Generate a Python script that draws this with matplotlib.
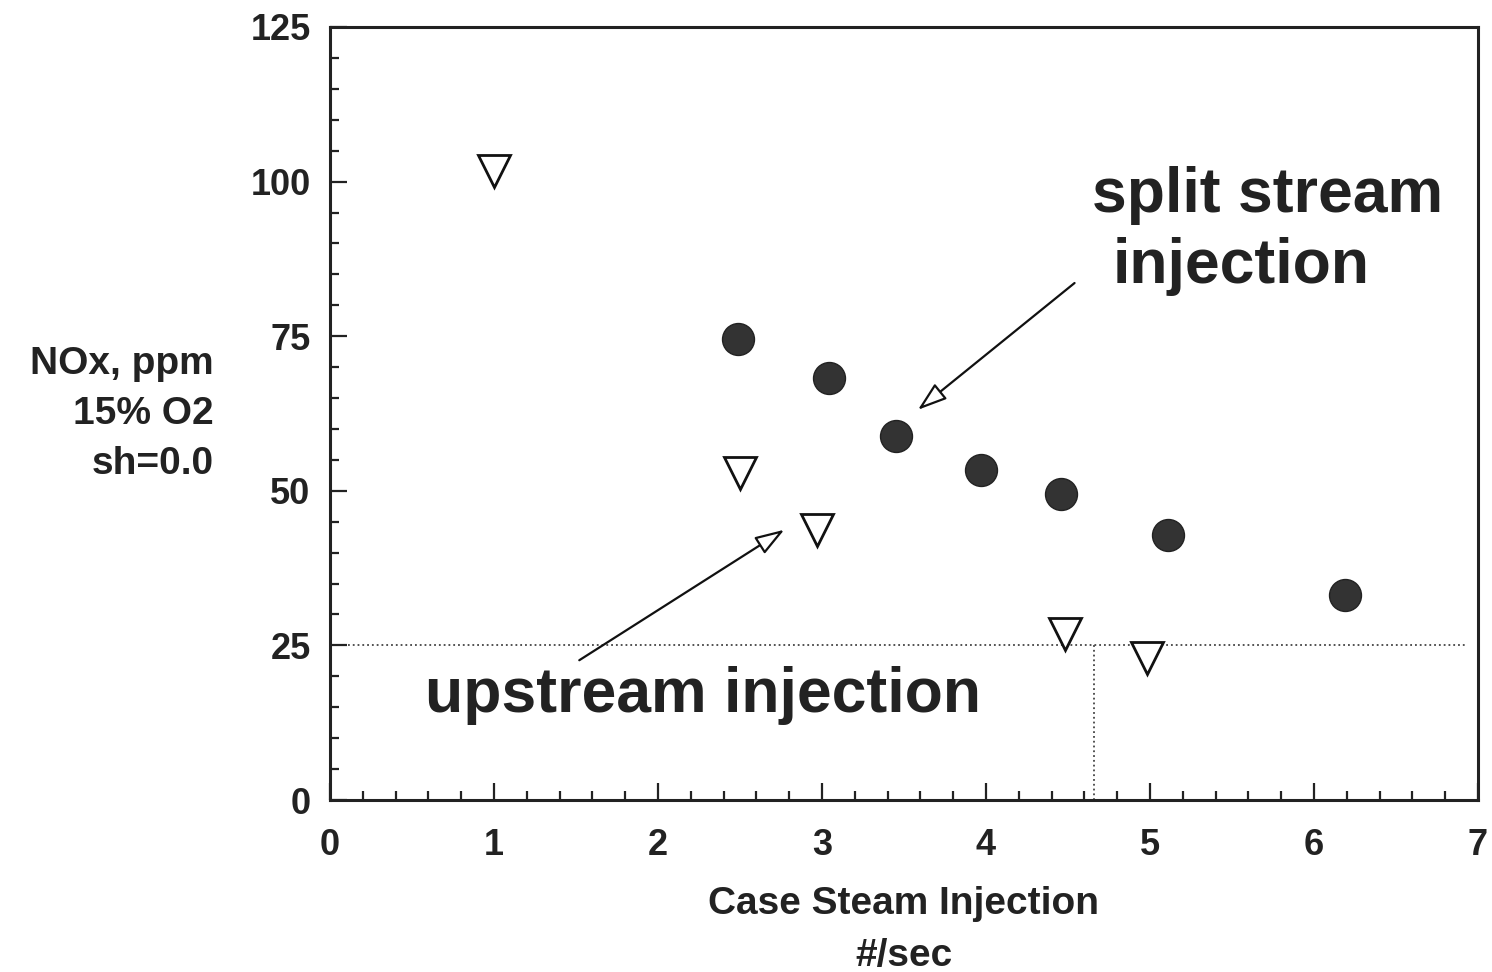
import matplotlib
matplotlib.use('Agg')
import matplotlib.pyplot as plt
from matplotlib.ticker import MultipleLocator

plt.rcParams['font.family'] = ['Liberation Sans', 'DejaVu Sans']
plt.rcParams['font.weight'] = 'bold'

# split stream injection (filled circles)
split_x = [2.49, 3.04, 3.45, 3.97, 4.46, 5.11, 6.19]
split_y = [74.6, 68.2, 58.9, 53.4, 49.5, 42.9, 33.2]

# upstream injection (open triangles)
up_x = [1.0, 2.50, 2.97, 4.48, 4.98]
up_y = [101.7, 52.8, 43.7, 26.8, 23.0]

limit_nox = 25
limit_steam = 4.66

fig = plt.figure(figsize=(14.92, 9.72), dpi=100)
ax = fig.add_axes([330/1492, 1-800/972, (1478-330)/1492, (800-27)/972])

ax.plot([0.11, 6.93], [limit_nox, limit_nox], ls=':', color='#444444', lw=1.3)
ax.plot([limit_steam, limit_steam], [0, limit_nox], ls=':', color='#444444', lw=1.3)

ax.plot(split_x, split_y, 'o', ms=23, mfc='#333333', mec='#222222', mew=1.0)
ax.plot(up_x, up_y, 'v', ms=23.5, mfc='white', mec='#111111', mew=2.0)

arr = dict(arrowstyle='-|>,head_length=1.8,head_width=0.6', fc='white', ec='#111111', lw=1.6,
           shrinkA=0, shrinkB=0)
ax.annotate('', xy=(3.585, 63.1), xytext=(4.54, 83.6), arrowprops=arr)
ax.annotate('', xy=(2.77, 43.7), xytext=(1.52, 22.6), arrowprops=arr)

ax.text(4.645, (800-212)/6.184, 'split stream', fontsize=45, fontweight='bold', color='#222222',
        va='baseline')
ax.text(4.775, (800-283)/6.184, 'injection', fontsize=45, fontweight='bold', color='#222222',
        va='baseline')
ax.text(0.58, 14.2, 'upstream injection', fontsize=45, fontweight='bold', color='#222222',
        va='baseline')

ax.set_xlim(0, 7)
ax.set_ylim(0, 125)
ax.xaxis.set_major_locator(MultipleLocator(1))
ax.xaxis.set_minor_locator(MultipleLocator(0.2))
ax.yaxis.set_major_locator(MultipleLocator(25))
ax.yaxis.set_minor_locator(MultipleLocator(5))
ax.tick_params(which='both', direction='in', width=1.6, color='#222222', labelsize=26, labelcolor='#222222')
ax.tick_params(which='major', length=12)
ax.tick_params(which='minor', length=6.5)
ax.tick_params(axis='x', pad=20)
ax.tick_params(axis='y', pad=14)
for s in ax.spines.values():
    s.set_linewidth(2.2)
    s.set_color('#222222')

ax.set_xlabel('Case Steam Injection\n#/sec', fontsize=28, fontweight='bold', color='#222222',
              labelpad=17, linespacing=1.55)
fig.text(214/1492, 1-414/972, 'NOx, ppm\n15% O2\nsh=0.0', fontsize=28, fontweight='bold',
         color='#222222', ha='right', va='center', multialignment='right', linespacing=1.5)

fig.savefig('out.png', dpi=100)
